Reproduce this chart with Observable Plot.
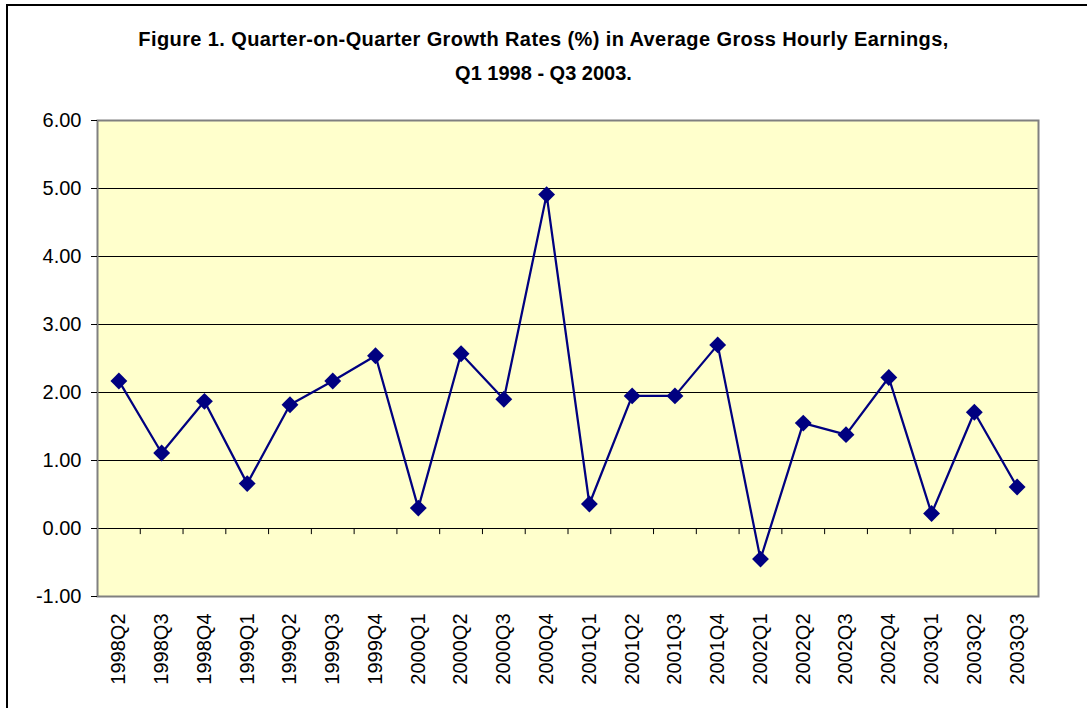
<!DOCTYPE html>
<html>
<head>
<meta charset="utf-8">
<script src="https://cdn.jsdelivr.net/npm/d3@7"></script>
<script src="https://cdn.jsdelivr.net/npm/@observablehq/plot@0.6"></script>
<style>
  html, body { margin:0; padding:0; background:#fff; }
  body { width:1087px; height:708px; overflow:hidden; position:relative; font-family: Arial, "Liberation Sans", sans-serif; }
  #border { position:absolute; left:6px; top:4px; width:1100px; height:720px; border:2px solid #000; box-sizing:border-box; }
  #title { position:absolute; left:0; top:0; width:1087px; height:100px; text-align:center; font-weight:bold; font-size:20px; line-height:23px; color:#000; }
  #title div { position:absolute; left:0; width:1087px; }
  #chart { position:absolute; left:0; top:100px; }
</style>
</head>
<body>
<div id="border"></div>
<div id="title">
  <div style="top:28px; letter-spacing:0.4px">Figure 1. Quarter-on-Quarter Growth Rates (%) in Average Gross Hourly Earnings,</div>
  <div style="top:62px">Q1 1998 - Q3 2003.</div>
</div>
<div id="chart"></div>
<script>
const categories = ["1998Q2","1998Q3","1998Q4","1999Q1","1999Q2","1999Q3","1999Q4","2000Q1","2000Q2","2000Q3","2000Q4","2001Q1","2001Q2","2001Q3","2001Q4","2002Q1","2002Q2","2002Q3","2002Q4","2003Q1","2003Q2","2003Q3"];
const growth = [2.17,1.11,1.87,0.66,1.82,2.17,2.54,0.30,2.57,1.90,4.91,0.36,1.95,1.95,2.70,-0.45,1.55,1.38,2.22,0.22,1.71,0.61];
const yTicks = [-1,0,1,2,3,4,5,6];
const gridValues = [1,2,3,4,5];

const data = categories.map((c, i) => ({i, c, v: growth[i]}));
const centers = categories.map((c, i) => i + 0.5);
const boundaries = d3.range(0, categories.length + 1);

const chart = Plot.plot({
  width: 1087,
  height: 608,
  marginTop: 20,
  marginBottom: 112,
  marginLeft: 97,
  marginRight: 49,
  style: {fontFamily: "Arial, 'Liberation Sans', sans-serif", color: "#000", background: "transparent"},
  x: {type: "linear", domain: [0, categories.length], label: null},
  y: {domain: [-1, 6], label: null},
  marks: [
    Plot.frame({fill: "#FFFFCC", stroke: "none"}),
    Plot.ruleY(gridValues, {stroke: "#000", strokeWidth: 1}),
    Plot.ruleY([0], {stroke: "#000", strokeWidth: 1}),
    Plot.ruleX(boundaries, {y1: 0, y2: -0.09, stroke: "#000", strokeWidth: 1}),
    Plot.frame({stroke: "#808080", strokeWidth: 2}),
    Plot.axisY({ticks: yTicks, tickFormat: d => d.toFixed(2), tickSize: 6, tickPadding: 10, fontSize: 20, label: null, stroke: "#000"}),
    Plot.axisX({ticks: centers, tickFormat: d => categories[Math.round(d - 0.5)], tickRotate: -90, tickSize: 0, tickPadding: 17, fontSize: 20, label: null}),
    Plot.line(data, {x: d => d.i + 0.5, y: "v", stroke: "#000080", strokeWidth: 2.25}),
    Plot.dot(data, {x: d => d.i + 0.5, y: "v", symbol: "diamond2", r: 7.6, fill: "#000080", stroke: "none"})
  ]
});
document.getElementById("chart").appendChild(chart);
</script>
</body>
</html>
